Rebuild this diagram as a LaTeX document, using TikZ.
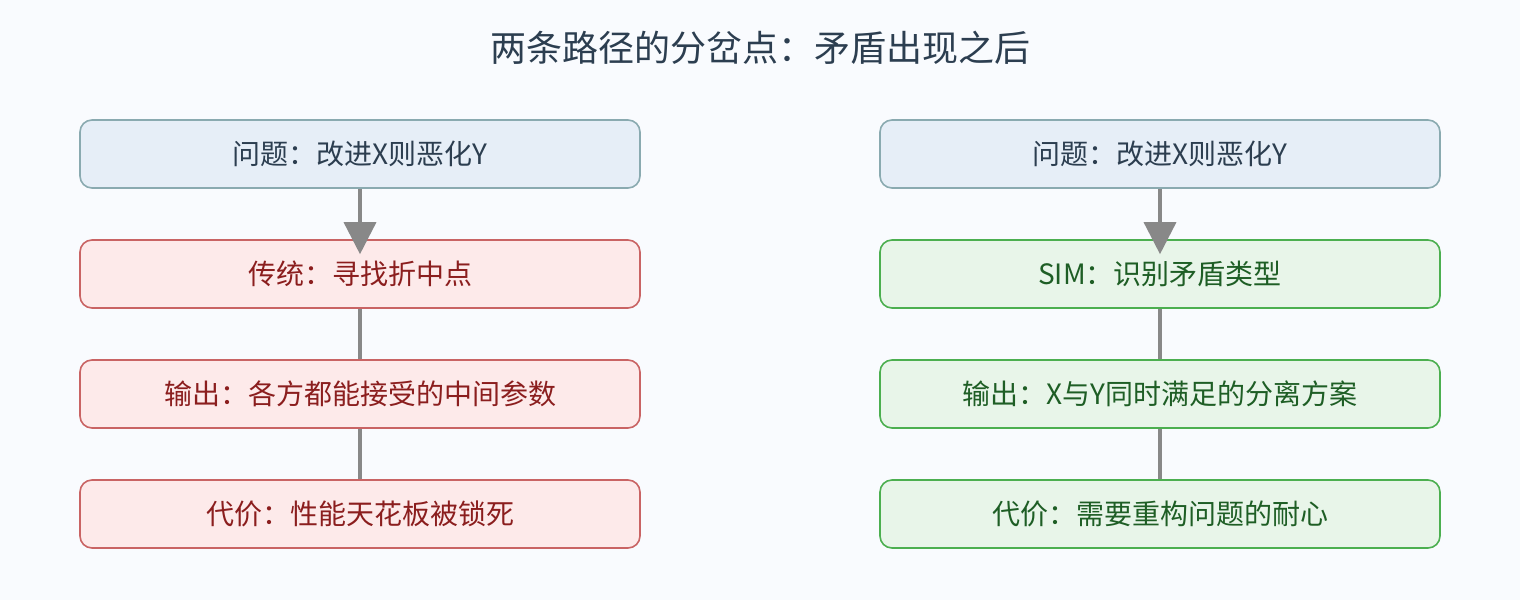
\documentclass[tikz,border=0pt]{standalone}
\usepackage{fontspec}
\setmainfont{Noto Sans CJK SC}
\usetikzlibrary{arrows.meta}
\definecolor{bgcol}{HTML}{F9FBFE}
\definecolor{qfill}{HTML}{E6EEF7}
\definecolor{qline}{HTML}{8AAAB0}
\definecolor{qtext}{HTML}{2C3E50}
\definecolor{rfill}{HTML}{FDEAEA}
\definecolor{rline}{HTML}{C96464}
\definecolor{rtext}{HTML}{8B1E1E}
\definecolor{gfill}{HTML}{E8F5E9}
\definecolor{gline}{HTML}{4CAF50}
\definecolor{gtext}{HTML}{1E5E25}
\definecolor{flowgray}{HTML}{888888}
\begin{document}
\begin{tikzpicture}[x=1pt,y=-1pt,
  box/.style={rounded corners=12pt,line width=1.6pt,minimum width=560pt,minimum height=68pt,font=\fontsize{28}{32}\selectfont},
  qbox/.style={box,draw=qline,fill=qfill,text=qtext},
  rbox/.style={box,draw=rline,fill=rfill,text=rtext},
  gbox/.style={box,draw=gline,fill=gfill,text=gtext},
  flow/.style={draw=flowgray,line width=3.5pt}]
\fill[bgcol] (0,0) rectangle (1520,600);
\node[text=qtext,font=\fontsize{36}{42}\selectfont] (title) at (760,48) {两条路径的分岔点：矛盾出现之后};
% left path
\node[qbox] (lq) at (360,154) {问题：改进X则恶化Y};
\node[rbox] (l1) at (360,274) {传统：寻找折中点};
\node[rbox] (l2) at (360,394) {输出：各方都能接受的中间参数};
\node[rbox] (l3) at (360,514) {代价：性能天花板被锁死};
% right path
\node[qbox] (rq) at (1160,154) {问题：改进X则恶化Y};
\node[gbox] (r1) at (1160,274) {SIM：识别矛盾类型};
\node[gbox] (r2) at (1160,394) {输出：X与Y同时满足的分离方案};
\node[gbox] (r3) at (1160,514) {代价：需要重构问题的耐心};
\draw[flow] (l1.south) -- (l2.north);
\draw[flow] (l2.south) -- (l3.north);
\draw[flow] (r1.south) -- (r2.north);
\draw[flow] (r2.south) -- (r3.north);
\draw[flow,-{Triangle[length=32pt,width=32pt]}] (lq.south) -- ([yshift=-15pt]l1.north);
\draw[flow,-{Triangle[length=32pt,width=32pt]}] (rq.south) -- ([yshift=-15pt]r1.north);
\end{tikzpicture}
\end{document}
